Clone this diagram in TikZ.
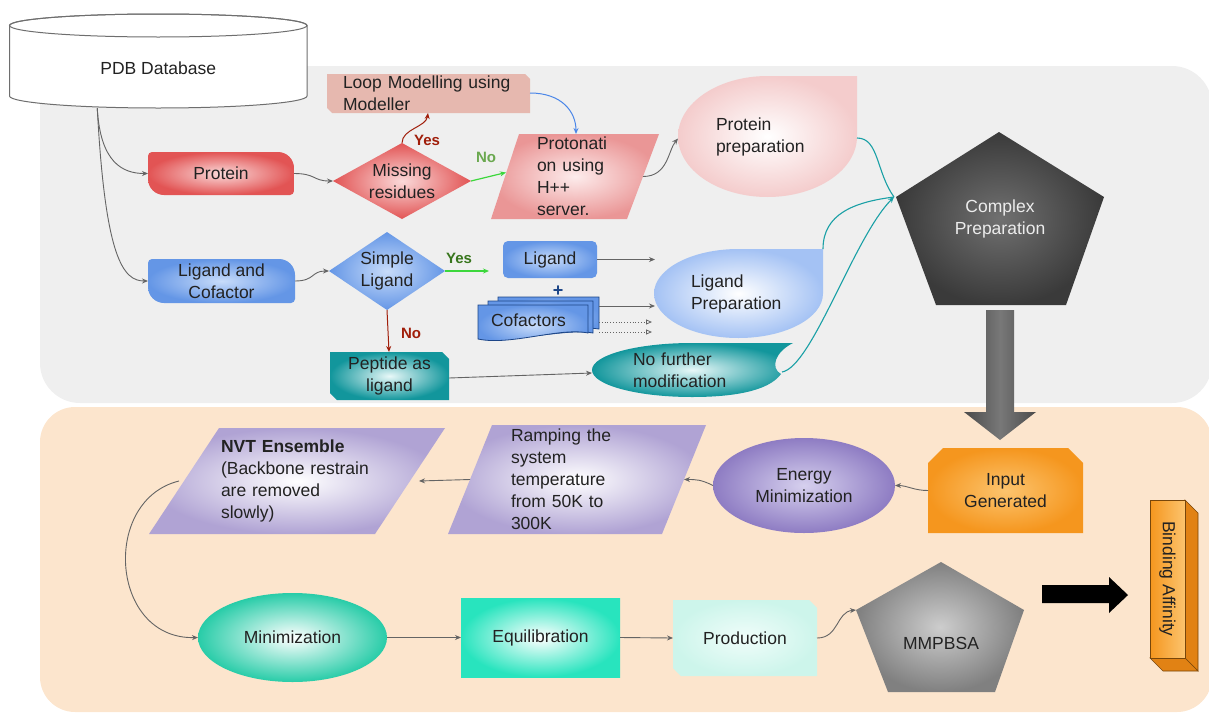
\documentclass[tikz,border=0pt]{standalone}
\usepackage{fontspec}
\setmainfont{Liberation Sans}
\usetikzlibrary{arrows.meta,shapes.geometric,calc}
\newcommand{\myfs}{\fontsize{17.5}{22}\selectfont}
\newcommand{\ynfs}{\fontsize{15}{17}\selectfont\bfseries}
\definecolor{pgray}{RGB}{239,239,239}
\definecolor{peach}{RGB}{252,229,205}
\definecolor{txtc}{RGB}{34,34,34}
\definecolor{arrc}{RGB}{100,100,100}
\definecolor{cylc}{RGB}{110,110,110}
\definecolor{redO}{RGB}{226,84,84}
\definecolor{redI}{RGB}{250,218,218}
\definecolor{prtO}{RGB}{234,150,150}
\definecolor{prtI}{RGB}{253,236,236}
\definecolor{loopc}{RGB}{230,184,175}
\definecolor{ppO}{RGB}{244,204,204}
\definecolor{bluO}{RGB}{100,150,230}
\definecolor{bluI}{RGB}{200,220,250}
\definecolor{lpO}{RGB}{164,194,244}
\definecolor{teaO}{RGB}{18,150,156}
\definecolor{teaI}{RGB}{232,248,248}
\definecolor{cpO}{RGB}{58,58,58}
\definecolor{cpI}{RGB}{112,112,112}
\definecolor{purO}{RGB}{176,163,212}
\definecolor{emO}{RGB}{142,124,195}
\definecolor{emI}{RGB}{214,208,238}
\definecolor{orO}{RGB}{245,150,30}
\definecolor{orI}{RGB}{252,196,110}
\definecolor{orS}{RGB}{225,130,20}
\definecolor{orE}{RGB}{120,70,10}
\definecolor{minO}{RGB}{40,204,168}
\definecolor{eqO}{RGB}{40,228,190}
\definecolor{prO}{RGB}{205,245,235}
\definecolor{prI}{RGB}{240,253,250}
\definecolor{mmO}{RGB}{128,128,128}
\definecolor{mmI}{RGB}{205,205,205}
\definecolor{dred}{RGB}{160,30,10}
\definecolor{lgreen}{RGB}{106,168,79}
\definecolor{dgreen}{RGB}{56,118,29}
\definecolor{bgreen}{RGB}{60,215,60}
\definecolor{bluarr}{RGB}{74,134,232}
\definecolor{tealc}{RGB}{26,160,166}
\definecolor{cofD}{RGB}{28,69,135}
\definecolor{gA}{RGB}{75,75,75}
\definecolor{gB}{RGB}{120,120,120}
\definecolor{cpT}{RGB}{236,236,236}
\begin{document}
\begin{tikzpicture}[x=1pt,y=-1pt,font=\myfs,
  fr/.style={inner sep=0pt, outer sep=0pt, align=center, text=txtc},
  con/.style={draw=arrc, line width=0.9pt, -{Stealth[length=6pt,width=5pt]}},
  tcon/.style={draw=tealc, line width=1.1pt},
  yn/.style={font=\ynfs, inner sep=0pt}]
\useasboundingbox (0,0) rectangle (1209,715);
% panels
\begin{scope}
\clip (0,0) rectangle (1209,715);
\fill[pgray,rounded corners=40pt] (40,66) rectangle (1212,403);
\fill[peach,rounded corners=35pt] (40,407) rectangle (1212,712);
\end{scope}
% ---------- shapes ----------
% cylinder
\filldraw[fill=white, draw=cylc, line width=1pt] (9.5,25.5) -- (9.5,96)
  arc[start angle=180, end angle=360, x radius=148.75pt, y radius=12pt] -- (307,25.5)
  arc[start angle=0, end angle=180, x radius=148.75pt, y radius=11.5pt] -- cycle;
\draw[cylc, line width=1pt] (158.25,25.5) ellipse [x radius=148.75pt, y radius=11.5pt];
% loop modelling
\fill[loopc] (327,74)--(525,74)--(530,79)--(530,113)--(332,113)--(327,108)--cycle;
% protein
\shade[inner color=redI, outer color=redO] (152,152) -- (278,152)
  arc[start angle=90,end angle=0,radius=16pt] -- (294,191)
  arc[start angle=0,end angle=-90,radius=4pt] -- (164,195)
  arc[start angle=-90,end angle=-180,radius=16pt] -- (148,156)
  arc[start angle=180,end angle=90,radius=4pt] -- cycle;
% ligand and cofactor
\shade[inner color=bluI, outer color=bluO] (152,259) -- (279,259)
  arc[start angle=90,end angle=0,radius=16pt] -- (295,299)
  arc[start angle=0,end angle=-90,radius=4pt] -- (164,303)
  arc[start angle=-90,end angle=-180,radius=16pt] -- (148,263)
  arc[start angle=180,end angle=90,radius=4pt] -- cycle;
% diamonds
\shade[inner color=redI, outer color=redO] (402,143)--(471,181)--(402,219)--(333,181)--cycle;
\shade[inner color=bluI, outer color=bluO] (387,232)--(445,271)--(387,310)--(329,271)--cycle;
% protonation
\shade[inner color=prtI, outer color=prtO] (519,134)--(659,134)--(627,219)--(491,219)--cycle;
% protein preparation
\shade[inner color=white, outer color=ppO] (767.5,76) -- (857,76) -- (857,136.5)
  arc[start angle=0,end angle=-90,x radius=89.5pt,y radius=60.5pt]
  arc[start angle=-90,end angle=-180,x radius=89.5pt,y radius=60.5pt]
  arc[start angle=180,end angle=90,x radius=89.5pt,y radius=60.5pt] -- cycle;
% ligand box
\shade[inner color=bluI, outer color=bluO, rounded corners=5pt] (503,241) rectangle (597,278);
% cofactors stack
\shadedraw[inner color=bluI, outer color=bluO, draw=cofD, line width=0.8pt] (498,297)--(599,297)--(599,329) .. controls (575,325) and (530,337) .. (498,332) -- cycle;
\shadedraw[inner color=bluI, outer color=bluO, draw=cofD, line width=0.8pt] (488,301)--(593,301)--(593,333) .. controls (568,328) and (520,342) .. (488,336) -- cycle;
\shadedraw[inner color=bluI, outer color=bluO, draw=cofD, line width=0.8pt] (478,305)--(588,305)--(588,333) .. controls (560,327) and (510,346) .. (478,339) -- cycle;
% ligand preparation
\shade[inner color=white, outer color=lpO] (738.5,249) -- (823,249) -- (823,293.5)
  arc[start angle=0,end angle=-90,x radius=84.5pt,y radius=44.5pt]
  arc[start angle=-90,end angle=-180,x radius=84.5pt,y radius=44.5pt]
  arc[start angle=180,end angle=90,x radius=84.5pt,y radius=44.5pt] -- cycle;
% peptide
\shade[inner color=teaI, outer color=teaO] (330,352)--(442,352)--(449,359)--(449,400)--(337,400)--(330,393)--cycle;
% no further modification
\shade[inner color=teaI, outer color=teaO] (692,343)--(793,343) .. controls (775,352) and (770,368) .. (781,374)
  .. controls (768,392) and (730,397) .. (692,397)
  arc[start angle=-90,end angle=-270,x radius=100pt,y radius=27pt] -- cycle;
% complex preparation
\shade[inner color=cpI, outer color=cpO] (999,132)--(1104,197)--(1066,305)--(936,305)--(896,197)--cycle;
% big gray arrow
\shade[left color=gA, right color=gA, middle color=gB] (986,310)--(1014,310)--(1014,412)--(1036,412)--(1000,440)--(964,412)--(986,412)--cycle;
% input generated
\shade[inner color=orI, outer color=orO] (928,463)--(943,448)--(1068,448)--(1083,463)--(1083,533)--(928,533)--cycle;
% ramping / NVT
\shade[inner color=white, outer color=purO] (492,425)--(706,425)--(662,534)--(448,534)--cycle;
\shade[inner color=white, outer color=purO] (219,428)--(445,428)--(375,534)--(149,534)--cycle;
% production
\shade[inner color=prI, outer color=prO] (673,600)--(809,600)--(817,608)--(817,676)--(681,676)--(673,668)--cycle;
% MMPBSA
\shade[inner color=mmI, outer color=mmO] (941,562)--(1024,610)--(995,692)--(888,692)--(856,610)--cycle;
% black arrow
\fill[black] (1042,585)--(1109,585)--(1109,577)--(1128,595)--(1109,613)--(1109,603)--(1042,603)--cycle;
% binding affinity cuboid
\filldraw[fill=orS, draw=orE, line width=0.6pt] (1185,500)--(1198,513)--(1198,671)--(1185,658)--cycle;
\filldraw[fill=orS, draw=orE, line width=0.6pt] (1150,658)--(1185,658)--(1198,671)--(1163,671)--cycle;
\shadedraw[left color=orO, right color=orI, draw=orE, line width=0.6pt] (1150,500) rectangle (1185,658);
% ---------- nodes ----------
\node[fr, minimum width=297pt, minimum height=80pt] (pdb) at (158.25,68) {PDB Database};
\node[fr, minimum width=203pt, minimum height=39pt, text width=171pt, align=left] (loop) at (428.5,93.5) {Loop Modelling using\\Modeller};
\node[fr, minimum width=146pt, minimum height=43pt] (prot) at (221,173.5) {Protein};
\node[fr, minimum width=147pt, minimum height=44pt] (lc) at (221.5,281) {Ligand and\\Cofactor};
\node[fr, minimum width=138pt, minimum height=76pt] (mr) at (402,181) {Missing\\residues};
\node[fr, minimum width=116pt, minimum height=78pt] (simp) at (387,271) {Simple\\Ligand};
\node[fr, minimum width=168pt, minimum height=85pt, text width=76pt, align=left] (pro) at (575,176.5) {Protonati\\on using\\H++\\server.};
\node[fr, minimum width=179pt, minimum height=121pt, text width=103pt, align=left] (pp) at (767.5,136.5) {Protein\\preparation};
\node[fr, minimum width=94pt, minimum height=37pt] (lig) at (550,259.5) {Ligand};
\node[fr, minimum width=121pt, minimum height=46pt, text width=95pt, align=left] (cof) at (538.5,320) {Cofactors};
\node[fr, minimum width=169pt, minimum height=89pt, text width=95pt, align=left] (lp) at (738.5,293.5) {Ligand\\Preparation};
\node[fr, minimum width=119pt, minimum height=48pt] (pep) at (389.5,376) {Peptide as\\ligand};
\node[fr, minimum width=201pt, minimum height=54pt, text width=119pt, align=left] (nfm) at (692.5,370) {No further\\modification};
\node[fr, minimum width=208pt, minimum height=173pt, text=cpT] (cplx) at (1000,218.5) {Complex\\Preparation};
\node[fr, minimum width=155pt, minimum height=85pt] (inp) at (1005.5,490.5) {Input\\Generated};
\node[fr, ellipse, minimum width=182pt, minimum height=95pt, inner color=emI, outer color=emO] (em) at (804,485.5) {Energy\\Minimization};
\node[fr, minimum width=258pt, minimum height=109pt, text width=132pt, align=left] (ramp) at (577,479.5) {Ramping the\\system\\temperature\\from 50K to\\300K};
\node[fr, minimum width=296pt, minimum height=106pt, text width=152pt, align=left] (nvt) at (297,481) {\textbf{NVT Ensemble}\\(Backbone restrain\\are removed\\slowly)};
\node[fr, ellipse, minimum width=189pt, minimum height=89pt, inner color=white, outer color=minO] (mini) at (292.5,637.5) {Minimization};
\node[fr, minimum width=159pt, minimum height=79pt, inner color=white, outer color=eqO] (equ) at (540.5,637.5) {Equilibration};
\node[fr, minimum width=144pt, minimum height=76pt] (prodn) at (745,638) {Production};
\node[fr, minimum width=168pt, minimum height=130pt] (mm) at (940,627) {};
\node[fr] (mmt) at (941,643) {MMPBSA};
\node[fr, rotate=-90, minimum width=158pt, minimum height=35pt] (ba) at (1167.5,579) {Binding Affinity};
\node[fr, text=cofD, font=\bfseries\fontsize{18}{18}\selectfont] (plus) at (558,291) {+};
% labels
\node[yn, text=dred] (y1) at (427,140) {Yes};
\node[yn, text=lgreen] (n1) at (486,157) {No};
\node[yn, text=dgreen] (y2) at (459,258) {Yes};
\node[yn, text=dred] (n2) at (411,333) {No};
% coordinates
\coordinate (lgend) at (655,259.5);
\coordinate (cfend) at (655,306);
\coordinate (cfd1) at (652,322);
\coordinate (cfd2) at (652,332);
\coordinate (cv) at (894,197);
\coordinate (mmL) at (856,610);
% ---------- connectors ----------
\draw[con] ([xshift=-61pt]pdb.south) .. controls +(3,55) and +(-25,0) .. (prot.west);
\draw[con] ([xshift=-61pt]pdb.south) .. controls +(8,150) and +(-25,0) .. (lc.west);
\draw[con] (prot.east) .. controls +(22,0) and +(-20,0) .. (mr.west);
\draw[draw=dred, line width=1pt, -{Stealth[length=6pt,width=5pt]}] (mr.north) .. controls +(0,-14) and +(-2,14) .. ([xshift=-0.5pt]loop.south);
\draw[draw=bgreen, line width=1.2pt, -{Stealth[length=6pt,width=5pt]}] (mr.east) -- ([xshift=15pt,yshift=4pt]pro.west);
\draw[draw=bluarr, line width=1pt, -{Stealth[length=6pt,width=5pt]}] ([yshift=0.5pt]loop.east) .. controls +(32,0) and +(0,-22) .. ([xshift=1pt]pro.north);
\draw[con] ([xshift=-16pt]pro.east) .. controls +(25,0) and +(-10,12) .. ([yshift=-2pt]pp.west);
\draw[con] (lc.east) .. controls +(20,0) and +(-18,0) .. (simp.west);
\draw[draw=bgreen, line width=1.2pt, -{Stealth[length=6pt,width=5pt]}] (simp.east) -- ($(lig.west |- simp.east)+(-14,0)$);
\draw[draw=dred, line width=1pt, -{Stealth[length=6pt,width=5pt]}] (simp.south) -- ([xshift=-0.5pt]pep.north);
\draw[con] (lig.east) -- (lgend);
\draw[con] ([yshift=14pt]cof.east) -- (cfend);
\draw[draw=arrc, line width=0.8pt, dotted, -{Triangle[open,length=6pt,width=5pt]}] ([yshift=-2pt]cof.east) -- (cfd1);
\draw[draw=arrc, line width=0.8pt, dotted, -{Triangle[open,length=6pt,width=5pt]}] ([yshift=-12pt]cof.east) -- (cfd2);
\draw[con] ([yshift=-2pt]pep.east) -- ([yshift=-3pt]nfm.west);
\draw[tcon] ([yshift=-1.5pt]pp.east) .. controls +(22,0) and +(-18,-25) .. (cv);
\draw[tcon] ([yshift=44.5pt]lp.east) .. controls +(0,-35) and +(-40,5) .. (cv);
\draw[tcon, -{Stealth[length=6pt,width=5pt]}] ([xshift=-11pt,yshift=-2pt]nfm.east) .. controls +(30,-5) and +(-40,40) .. (cv);
\draw[con] (inp.west) .. controls +(-14,0) and +(12,0) .. (em.east);
\draw[con] (em.west) .. controls +(-12,-6) and +(12,0) .. ([xshift=-22pt]ramp.east);
\draw[con] ([xshift=22pt]ramp.west) -- ([xshift=-26pt]nvt.east);
\draw[con] ([xshift=30pt]nvt.west) .. controls +(-78,19) and +(-88,2) .. (mini.west);
\draw[con] (mini.east) -- (equ.west);
\draw[con] (equ.east) -- (prodn.west);
\draw[con] (prodn.east) .. controls +(22,0) and +(-20,2) .. (mmL);
\end{tikzpicture}
\end{document}
